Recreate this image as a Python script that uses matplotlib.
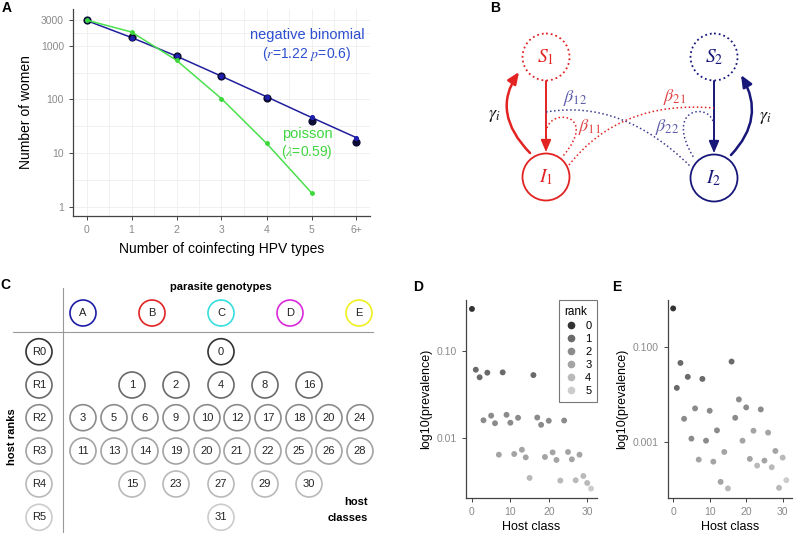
import matplotlib.pyplot as plt
import matplotlib.patches as mpatches
from matplotlib.path import Path
import numpy as np

plt.rcParams['font.family'] = ['Liberation Sans', 'DejaVu Sans']
plt.rcParams['mathtext.fontset'] = 'stix'

W, H = 795, 533

# ---- panel A: coinfection counts
n_types = ['0', '1', '2', '3', '4', '5', '6+']
observed = [2950, 1433, 651, 269, 106, 40, 16.3]
negbin = [2950, 1420, 640, 270, 112, 46, 19.3]
poisson = [3000, 1800, 535, 103, 15.2, 1.82]

# ---- panel C: host classes per rank
genotypes = ['A', 'B', 'C', 'D', 'E']
genotype_colors = ['#1c1ca8', '#e02424', '#38dede', '#d92ad9', '#f0f020']
rank_names = ['R0', 'R1', 'R2', 'R3', 'R4', 'R5']
host_rows = [[0],
             [1, 2, 4, 8, 16],
             [3, 5, 6, 9, 10, 12, 17, 18, 20, 24],
             [11, 13, 14, 19, 20, 21, 22, 25, 26, 28],
             [15, 23, 27, 29, 30],
             [31]]

# ---- panels D/E: prevalence per host class
host_class = list(range(32))
rank = [0, 1, 1, 2, 1, 2, 2, 3, 1, 2, 2, 3, 2, 3, 3, 4,
        1, 2, 2, 3, 2, 3, 3, 4, 2, 3, 3, 4, 3, 4, 4, 5]
prev_D = [0.300, 0.0608, 0.0498, 0.0161, 0.0562, 0.0182, 0.0149, 0.00652,
          0.0567, 0.0186, 0.0151, 0.00664, 0.0172, 0.00743, 0.00608, 0.00354,
          0.0528, 0.0173, 0.0143, 0.00614, 0.0159, 0.00693, 0.00568, 0.0033,
          0.0160, 0.0070, 0.00577, 0.00333, 0.00652, 0.00373, 0.0031, 0.00268]
prev_E = [0.635, 0.01355, 0.0453, 0.00303, 0.0231, 0.00116, 0.00501, 0.00042,
          0.0209, 0.00105, 0.00447, 0.00038, 0.00173, 0.000143, 0.000608, 0.000104,
          0.0484, 0.00318, 0.00774, 0.00105, 0.00526, 0.000434, 0.0017, 0.000314,
          0.00477, 0.0004, 0.00155, 0.00029, 0.000638, 0.000107, 0.000462, 0.000155]
rank_colors = ['#333333', '#6a6a6a', '#8b8b8b', '#a4a4a4', '#b9b9b9', '#cccccc']


def box(x0, y0, x1, y1):
    # pixel box (origin top-left) -> figure fraction
    return [x0 / W, 1 - y1 / H, (x1 - x0) / W, (y1 - y0) / H]


def style_axes(ax):
    for s in ['top', 'right']:
        ax.spines[s].set_visible(False)
    for s in ['left', 'bottom']:
        ax.spines[s].set_color('#444444')
        ax.spines[s].set_linewidth(0.9)
    ax.tick_params(colors='#444444', labelcolor='#8a8a8a', length=3, width=0.7, labelsize=7.5)


fig = plt.figure(figsize=(W / 100, H / 100), dpi=100)

# background axes in pixel coordinates for the diagrams (B, C) and panel letters
bg = fig.add_axes([0, 0, 1, 1])
bg.set_xlim(0, W)
bg.set_ylim(H, 0)
bg.axis('off')

for lab, (px, py) in zip('ABCDE', [(7, 8), (495, 8), (5, 285), (418, 287), (617, 287)]):
    bg.text(px, py, lab, fontsize=10, fontweight='bold', ha='center', va='center')

# ================= A =================
axA = fig.add_axes(box(73, 9, 370, 216))
xA = np.arange(len(n_types))
axA.plot(xA, negbin, color='#1f1f9e', lw=1.1, zorder=3)
axA.scatter(xA, observed, s=24, color='#0b0b33', zorder=4)
axA.scatter(xA, negbin, s=7, color='#1f1fb0', zorder=5)
axA.plot(xA[:len(poisson)], poisson, color='#4be04b', lw=1.1, zorder=6)
axA.scatter(xA[:len(poisson)], poisson, s=6, color='#3ad83a', zorder=7)
axA.set_yscale('log')
axA.set_xlim(-0.3, 6.3)
axA.set_ylim(10 ** -0.173, 10 ** 3.684)
axA.set_xticks(xA)
axA.set_xticklabels(n_types)
axA.set_yticks([1, 10, 100, 1000, 3000])
axA.set_yticklabels(['1', '10', '100', '1000', '3000'])
axA.set_yticks(10 ** np.array([0.5, 1.5, 2.5, 3.239]), minor=True)
axA.set_xticks(xA[:-1] + 0.5, minor=True)
axA.tick_params(which='minor', length=0)
axA.grid(True, which='both', color='#eeeeee', lw=0.6)
axA.set_axisbelow(True)
style_axes(axA)
axA.set_xlabel('Number of coinfecting HPV types', fontsize=10, labelpad=5)
axA.set_ylabel('Number of women', fontsize=10, labelpad=6)
axA.text(4.9, 1585, 'negative binomial', color='#2d4fd0', fontsize=10.5, ha='center', va='center')
axA.text(4.9, 700, '($r$=1.22 $p$=0.6)', color='#2d4fd0', fontsize=10, ha='center', va='center')
axA.text(4.9, 22.6, 'poisson', color='#3fd63f', fontsize=10.5, ha='center', va='center')
axA.text(4.9, 10.4, r'($\lambda$=0.59)', color='#3fd63f', fontsize=10, ha='center', va='center')

# ================= B =================
red = '#e32222'
navy = '#17177a'
slate = '#3c3c92'
for (cx, cy), col, ls, lab in [((546, 57), red, ':', '$S_1$'), ((546, 177), red, '-', '$I_1$'),
                               ((714, 57), navy, ':', '$S_2$'), ((714, 178), navy, '-', '$I_2$')]:
    bg.add_patch(mpatches.Circle((cx, cy), 23.5, fill=False, ec=col, ls=ls, lw=1.3))
    bg.text(cx, cy, lab, color=col, fontsize=14, ha='center', va='center')


def arrow(verts, codes, col, lw):
    bg.add_patch(mpatches.FancyArrowPatch(path=Path(verts, codes),
                                          arrowstyle='-|>,head_length=0.7,head_width=0.3',
                                          mutation_scale=10, color=col, lw=lw, shrinkA=0, shrinkB=0))


L2 = [Path.MOVETO, Path.LINETO]
Q3 = [Path.MOVETO, Path.CURVE3, Path.CURVE3]
C4 = [Path.MOVETO, Path.CURVE4, Path.CURVE4, Path.CURVE4]
arrow([(546, 81), (546, 152)], L2, red, 1.4)
arrow([(714, 81), (714, 153)], L2, navy, 1.4)
arrow([(530, 153), (491, 113), (519, 72)], Q3, red, 1.8)
arrow([(731, 155), (766, 118), (741, 75)], Q3, navy, 1.8)


def dotted(verts, codes, col):
    bg.add_patch(mpatches.PathPatch(Path(verts, codes), fill=False, ec=col, ls=':', lw=1.1))


dotted([(546, 112), (622, 99), (690, 166)], Q3, slate)
dotted([(569, 165), (620, 100), (714, 108)], Q3, red)
dotted([(547, 128), (553, 108), (598, 115), (563, 156)], C4, red)
dotted([(713, 121), (706, 102), (664, 110), (694, 158)], C4, slate)

bg.text(575, 98, r'$\beta_{12}$', color='#5c5ca8', fontsize=13, ha='center', va='center')
bg.text(675, 97, r'$\beta_{21}$', color='#e04444', fontsize=13, ha='center', va='center')
bg.text(590, 127, r'$\beta_{11}$', color='#e04444', fontsize=13, ha='center', va='center')
bg.text(667, 127, r'$\beta_{22}$', color='#5c5ca8', fontsize=13, ha='center', va='center')
bg.text(494, 115, r'$\gamma_i$', color='#111111', fontsize=13, ha='center', va='center')
bg.text(765, 117, r'$\gamma_i$', color='#111111', fontsize=13, ha='center', va='center')

# ================= C =================
bg.plot([63, 63], [288, 533], color='#999999', lw=0.8)
bg.plot([13, 373], [332, 332], color='#999999', lw=0.8)
bg.text(221, 287, 'parasite genotypes', fontsize=8, fontweight='bold', ha='center', va='center')
bg.text(12, 437, 'host ranks', fontsize=8, fontweight='bold', ha='center', va='center', rotation=90)
bg.text(368, 502, 'host', fontsize=8, fontweight='bold', ha='right', va='center')
bg.text(368, 518, 'classes', fontsize=8, fontweight='bold', ha='right', va='center')

r = 13
geno_x = [83, 152, 221, 290, 359]
for gx, g, gc in zip(geno_x, genotypes, genotype_colors):
    bg.add_patch(mpatches.Circle((gx, 313), r, fill=False, ec=gc, lw=1.2))
    bg.text(gx, 313, g, fontsize=8, ha='center', va='center', color='#222222')

row_y = [351.7, 385, 417.7, 451, 484, 517.3]
wide_x = [83, 114, 145, 176, 207, 237, 268, 299, 329, 360]
five_x = [132, 176, 221, 265, 309]
for i, (ry, row) in enumerate(zip(row_y, host_rows)):
    ec = rank_colors[i]
    bg.add_patch(mpatches.Circle((39, ry), r, fill=False, ec=ec, lw=1.2))
    bg.text(39, ry, rank_names[i], fontsize=8, ha='center', va='center', color='#222222')
    if len(row) == 1:
        xs = [221]
    elif len(row) == 5:
        xs = five_x
    else:
        xs = wide_x
    for hx, hc in zip(xs, row):
        bg.add_patch(mpatches.Circle((hx, ry), r, fill=False, ec=ec, lw=1.2))
        bg.text(hx, ry, str(hc), fontsize=8, ha='center', va='center', color='#222222')

# ================= D / E =================
cols = [rank_colors[k] for k in rank]

axD = fig.add_axes(box(466, 300, 597, 497.5))
axD.scatter(host_class, prev_D, s=18, c=cols, lw=0, zorder=3)
axD.set_yscale('log')
axD.set_xlim(-1.55, 32.55)
axD.set_ylim(10 ** -2.674, 10 ** -0.421)
axD.set_yticks([0.01, 0.1])
axD.set_yticklabels(['0.01', '0.10'])
axD.minorticks_off()
axD.set_xticks([0, 10, 20, 30])
style_axes(axD)
axD.set_xlabel('Host class', fontsize=9, labelpad=3)
axD.set_ylabel('log10(prevalence)', fontsize=9, labelpad=3)
handles = [plt.Line2D([], [], marker='o', ls='', color=rank_colors[k], markersize=4.5) for k in range(6)]
leg = axD.legend(handles, [str(k) for k in range(6)], title='rank', loc='upper right',
                 bbox_to_anchor=(1.0, 1.0), borderaxespad=0, fontsize=8, title_fontsize=8.5,
                 fancybox=False, edgecolor='#555555', handlelength=1.2, handletextpad=0.7,
                 labelspacing=0.28, borderpad=0.5, alignment='left')
leg.get_frame().set_linewidth(0.8)

axE = fig.add_axes(box(667.5, 300, 792, 497.5))
axE.scatter(host_class, prev_E, s=18, c=cols, lw=0, zorder=3)
axE.set_yscale('log')
axE.set_xlim(-1.55, 32.55)
axE.set_ylim(10 ** -4.174, 10 ** -0.02)
axE.set_yticks([0.001, 0.1])
axE.set_yticklabels(['0.001', '0.100'])
axE.minorticks_off()
axE.set_xticks([0, 10, 20, 30])
style_axes(axE)
axE.set_xlabel('Host class', fontsize=9, labelpad=3)
axE.set_ylabel('log10(prevalence)', fontsize=9, labelpad=3)

fig.savefig('out.png', dpi=100)
